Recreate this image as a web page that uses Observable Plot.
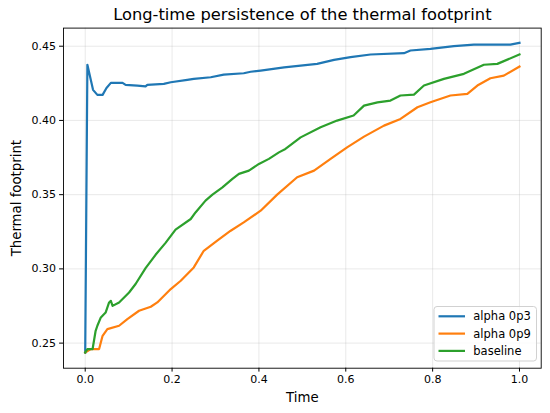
<!DOCTYPE html>
<html><head><meta charset="utf-8">
<script src="https://cdn.jsdelivr.net/npm/d3@7"></script>
<script src="https://cdn.jsdelivr.net/npm/@observablehq/plot@0.6"></script>
<style>body{margin:0;background:#fff;}</style>
</head><body><div id="chart"></div>
<script>
const titleText = "Long-time persistence of the thermal footprint";
const xLabel = "Time";
const yLabel = "Thermal footprint";
const seriesNames = ["alpha 0p3", "alpha 0p9", "baseline"];
const seriesColors = ["#1f77b4", "#ff7f0e", "#2ca02c"];
const xTicks = [0, 0.2, 0.4, 0.6, 0.8, 1.0];
const yTicks = [0.25, 0.30, 0.35, 0.40, 0.45];

const alpha0p3T = [0, 0.005, 0.018, 0.028, 0.040, 0.049, 0.059, 0.086, 0.093, 0.12, 0.139, 0.143, 0.181, 0.197, 0.235, 0.25, 0.289, 0.319, 0.365, 0.381, 0.404, 0.458, 0.534, 0.573, 0.611, 0.657, 0.734, 0.749, 0.795, 0.849, 0.895, 0.979, 1.0];
const alpha0p3V = [0.2435, 0.4375, 0.4206, 0.4172, 0.4172, 0.4219, 0.4253, 0.4253, 0.424, 0.4235, 0.423, 0.424, 0.4246, 0.4257, 0.4273, 0.428, 0.4291, 0.4309, 0.4318, 0.4328, 0.4336, 0.4358, 0.4381, 0.4408, 0.4426, 0.4444, 0.4453, 0.4471, 0.4482, 0.45, 0.4511, 0.4511, 0.4523];

const alpha0p9T = [0, 0.013, 0.032, 0.04, 0.051, 0.078, 0.097, 0.124, 0.151, 0.166, 0.197, 0.22, 0.25, 0.273, 0.304, 0.335, 0.365, 0.404, 0.442, 0.488, 0.527, 0.565, 0.603, 0.642, 0.688, 0.726, 0.765, 0.795, 0.841, 0.88, 0.903, 0.933, 0.964, 1.0];
const alpha0p9V = [0.2437, 0.246, 0.246, 0.2549, 0.2594, 0.2617, 0.2662, 0.2718, 0.2745, 0.2774, 0.2864, 0.292, 0.301, 0.3122, 0.319, 0.3257, 0.3313, 0.3392, 0.35, 0.3617, 0.3662, 0.3741, 0.3819, 0.3891, 0.3965, 0.401, 0.4089, 0.4122, 0.4168, 0.4179, 0.4235, 0.4284, 0.4302, 0.4363];

const baselineT = [0, 0.005, 0.017, 0.024, 0.028, 0.036, 0.047, 0.055, 0.059, 0.063, 0.078, 0.101, 0.116, 0.139, 0.162, 0.185, 0.208, 0.243, 0.254, 0.277, 0.293, 0.316, 0.339, 0.354, 0.377, 0.4, 0.423, 0.446, 0.461, 0.496, 0.542, 0.58, 0.618, 0.642, 0.673, 0.703, 0.726, 0.757, 0.78, 0.826, 0.872, 0.918, 0.949, 1.0];
const baselineV = [0.2437, 0.246, 0.246, 0.2583, 0.2617, 0.2673, 0.2706, 0.2774, 0.2785, 0.2751, 0.2774, 0.2841, 0.2898, 0.3005, 0.3095, 0.3175, 0.3265, 0.3336, 0.338, 0.346, 0.35, 0.3549, 0.3606, 0.364, 0.3662, 0.3707, 0.3741, 0.3785, 0.3808, 0.3886, 0.3954, 0.3999, 0.4033, 0.41, 0.4122, 0.4134, 0.4168, 0.4174, 0.4235, 0.428, 0.4314, 0.4375, 0.4381, 0.4444];

const rows = [];
[[seriesNames[0], alpha0p3T, alpha0p3V], [seriesNames[1], alpha0p9T, alpha0p9V], [seriesNames[2], baselineT, baselineV]]
  .forEach(([name, ts, vs]) => ts.forEach((t, i) => rows.push({series: name, t, v: vs[i]})));

const W = 550, H = 413, mL = 63, mR = 9.3, mT = 27.6, mB = 45.3;
const font = "DejaVu Sans";
const gridStyle = {stroke: "#b0b0b0", strokeOpacity: 0.35, strokeWidth: 0.8};

const chart = Plot.plot({
  width: W, height: H,
  marginLeft: mL, marginRight: mR, marginTop: mT, marginBottom: mB,
  style: {fontFamily: font, fontSize: "11px", background: "#fff", color: "#000", overflow: "visible"},
  x: {domain: [-0.05, 1.05]},
  y: {domain: [0.2331, 0.4622]},
  color: {domain: seriesNames, range: seriesColors},
  marks: [
    Plot.gridX(xTicks, gridStyle),
    Plot.gridY(yTicks, gridStyle),
    Plot.line(rows, {x: "t", y: "v", z: "series", stroke: "series", strokeWidth: 2.2, strokeLinejoin: "round", strokeLinecap: "square"}),
    Plot.frame({stroke: "#000", strokeWidth: 0.9}),
    Plot.axisX(xTicks, {tickFormat: d3.format(".1f"), tickSize: 3.9, tickPadding: 3.5, label: null, fontSize: 11}),
    Plot.axisY(yTicks, {tickFormat: d3.format(".2f"), tickSize: 3.9, tickPadding: 3.5, label: null, fontSize: 11}),
    Plot.text([xLabel], {text: d => d, frameAnchor: "bottom", lineAnchor: "middle", textAnchor: "middle", dy: 30, fontSize: 13.3}),
    Plot.text([yLabel], {text: d => d, frameAnchor: "left", lineAnchor: "middle", textAnchor: "middle", rotate: -90, dx: -46.3, fontSize: 13.3}),
    Plot.text([titleText], {text: d => d, frameAnchor: "top", lineAnchor: "middle", textAnchor: "middle", dy: -13.6, fontSize: 16.3})
  ]
});
document.getElementById("chart").appendChild(chart);

// legend (lower-right corner inside the axes)
const svg = d3.select(chart);
const lg = svg.append("g").attr("font-family", font).attr("font-size", 11.5).attr("text-anchor", "start");
const lx = 434, ly = 306.5, lw = 102.5, lh = 54.5;
lg.append("rect").attr("x", lx).attr("y", ly).attr("width", lw).attr("height", lh)
  .attr("rx", 3).attr("fill", "#fff").attr("fill-opacity", 0.8).attr("stroke", "#cccccc").attr("stroke-width", 0.9);
seriesNames.forEach((name, i) => {
  const cy = 316.3 + i * 17.3;
  lg.append("line").attr("x1", 438.5).attr("x2", 465).attr("y1", cy).attr("y2", cy)
    .attr("stroke", seriesColors[i]).attr("stroke-width", 2.2);
  lg.append("text").attr("x", 473.3).attr("y", cy).attr("dy", "0.35em").attr("text-anchor", "start").attr("fill", "#000").text(name);
});
</script>
</body></html>
